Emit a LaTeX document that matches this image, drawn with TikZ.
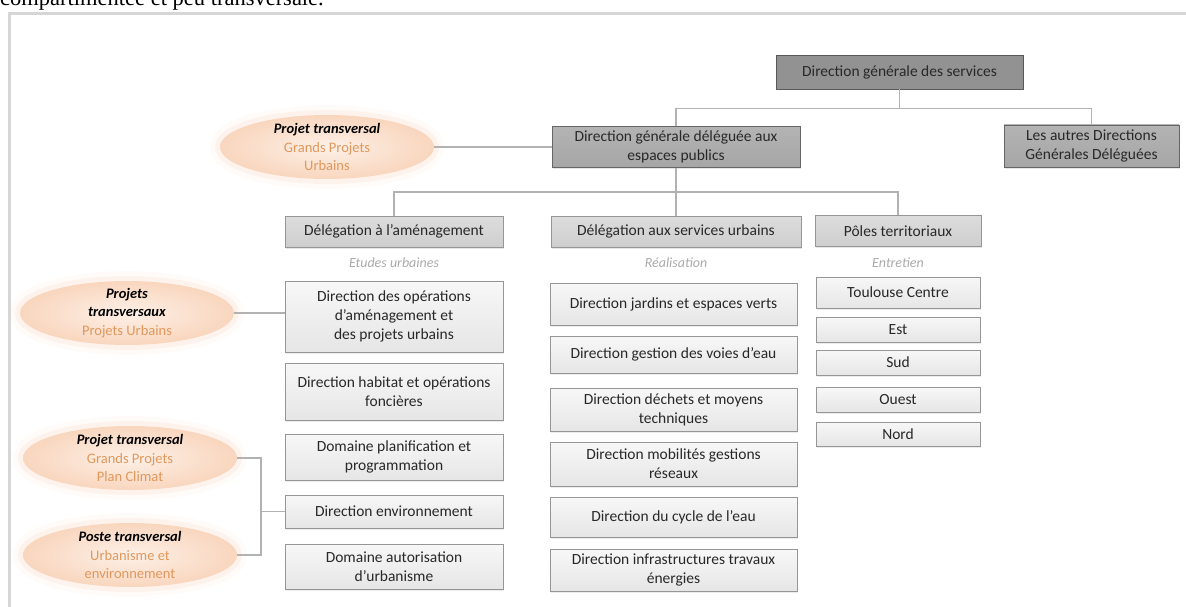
\documentclass[tikz,border=0pt]{standalone}
\usepackage{fontspec}
\setmainfont{Carlito}
\newfontfamily\pagefont{Liberation Serif}
\usetikzlibrary{shapes.geometric,shadows}
\definecolor{framegray}{RGB}{214,214,214}
\definecolor{topgray}{RGB}{146,146,146}
\definecolor{midgray}{RGB}{166,166,166}
\definecolor{delgray}{RGB}{206,206,206}
\definecolor{dirfill}{RGB}{242,242,242}
\definecolor{boxline}{RGB}{150,150,150}
\definecolor{linkgray}{RGB}{178,178,178}
\definecolor{notegray}{RGB}{170,170,170}
\definecolor{peach}{RGB}{249,214,190}
\definecolor{peachlight}{RGB}{253,240,231}
\definecolor{orangetext}{RGB}{224,152,92}
\definecolor{inkgray}{RGB}{40,40,40}
\newcommand{\orng}[1]{{\color{orangetext}#1}}
\newcommand{\bi}[1]{\textbf{\textit{#1}}}
\tikzset{
  base/.style={draw=boxline, line width=0.8pt, align=center, text=inkgray,
    inner sep=2pt, font=\fontsize{15.5}{19}\selectfont},
  topbox/.style={base, fill=topgray, draw=gray!70!black,
    drop shadow={opacity=0.25, shadow xshift=1pt, shadow yshift=-1.5pt}},
  dgbox/.style={base, top color=midgray!85!white, bottom color=midgray, draw=gray!80!black,
    drop shadow={opacity=0.2, shadow xshift=1pt, shadow yshift=-1.5pt}},
  delbox/.style={base, top color=delgray!70!white, bottom color=delgray, minimum height=31pt,
    drop shadow={opacity=0.2, shadow xshift=1pt, shadow yshift=-1.5pt}},
  dirbox/.style={base, top color=white!97!black, bottom color=dirfill!95!black,
    drop shadow={opacity=0.15, shadow xshift=1pt, shadow yshift=-1.5pt}},
  leftdir/.style={dirbox, minimum width=218pt},
  middir/.style={dirbox, minimum width=247pt},
  poledir/.style={dirbox, minimum width=164pt},
  note/.style={text=notegray, font=\fontsize{14}{17}\selectfont\itshape},
  link/.style={linkgray, line width=1.1pt},
  projet/.style={ellipse, minimum width=214pt, minimum height=64pt,
    inner xsep=0pt, inner ysep=-4pt, align=center, text=black,
    font=\fontsize{14.5}{18.5}\selectfont,
    preaction={draw=peach, line width=20pt, draw opacity=0.1},
    preaction={draw=peach, line width=10pt, draw opacity=0.22},
    shading=radial, inner color=peachlight, outer color=peach}
}

\begin{document}
\begin{tikzpicture}[x=1pt,y=-1pt]
  \useasboundingbox (0,0) rectangle (1186,607);
  \node[anchor=base west, inner sep=0pt, font=\pagefont\fontsize{22.5}{27}\selectfont] (phrase) at (0,6) {compartimentée et peu transversale.};
  \draw[framegray, line width=3pt] (1186,13.5) -- (9.5,13.5) -- (9.5,607);

  % direction generale
  \node[topbox, minimum width=247pt, minimum height=34pt] (dgs) at (899.5,72) {Direction générale des services};
  \node[dgbox, minimum width=248pt, minimum height=41pt] (dgdep) at (676,147) {Direction générale déléguée aux\\espaces publics};
  \node[dgbox, minimum width=175pt, minimum height=42pt] (autres) at (1091.5,146) {Les autres Directions\\Générales Déléguées};
  \draw[link] (dgs.south) -- ++(0,19) coordinate (top);
  \draw[link] (dgdep.north) |- (top) -| (autres.north);

  % delegations
  \node[delbox, minimum width=218pt] (amen) at (394,231.5) {Délégation à l’aménagement};
  \node[delbox, minimum width=250pt] (servurb) at (676,231.5) {Délégation aux services urbains};
  \node[delbox, minimum width=166pt] (poles) at (898,231) {Pôles territoriaux};
  \coordinate (mid) at (676,192);
  \draw[link] (dgdep.south) -- (servurb.north);
  \draw[link] (amen.north) |- (mid) -| (poles.north);

  \node[note] (etudes) at (394,263) {Etudes urbaines};
  \node[note] (realis) at (676,263) {Réalisation};
  \node[note] (entret) at (898,263) {Entretien};

  % amenagement
  \node[leftdir, minimum height=71pt] (dop) at (394,316.5) {Direction des opérations\\d’aménagement et\\des projets urbains};
  \node[leftdir, minimum height=57pt] (dhab) at (394,391.5) {Direction habitat et opérations\\foncières};
  \node[leftdir, minimum height=46pt] (dplan) at (394,457) {Domaine planification et\\programmation};
  \node[leftdir, minimum height=33pt] (denv) at (394,511.5) {Direction environnement};
  \node[leftdir, minimum height=45pt] (daut) at (394,566.5) {Domaine autorisation\\d’urbanisme};

  % services urbains
  \node[middir, minimum height=42pt] (djard) at (673.5,304) {Direction jardins et espaces verts};
  \node[middir, minimum height=37pt] (dvoies) at (673.5,354.5) {Direction gestion des voies d’eau};
  \node[middir, minimum height=43pt] (ddech) at (673.5,409.5) {Direction déchets et moyens\\techniques};
  \node[middir, minimum height=44pt] (dmob) at (673.5,464) {Direction mobilités gestions\\réseaux};
  \node[middir, minimum height=40pt] (dcycle) at (673.5,517) {Direction du cycle de l’eau};
  \node[middir, minimum height=42pt] (dinfra) at (673.5,570) {Direction infrastructures travaux\\énergies};

  % poles territoriaux
  \node[poledir, minimum height=31pt] (tlse) at (898,292.5) {Toulouse Centre};
  \node[poledir, minimum height=25pt] (est) at (898,329.5) {Est};
  \node[poledir, minimum height=25pt] (sud) at (898,362.5) {Sud};
  \node[poledir, minimum height=25pt] (ouest) at (898,399.5) {Ouest};
  \node[poledir, minimum height=24pt] (nord) at (898,434) {Nord};

  % projets transversaux
  \node[projet] (gpu) at (327,147) {\bi{Projet transversal}\\\orng{Grands Projets}\\\orng{Urbains}};
  \node[projet] (pu) at (127,313) {\bi{Projets}\\\bi{transversaux}\\\orng{Projets Urbains}};
  \node[projet] (climat) at (130,458) {\bi{Projet transversal}\\\orng{Grands Projets}\\\orng{Plan Climat}};
  \node[projet] (urba) at (130,555) {\bi{Poste transversal}\\\orng{Urbanisme et}\\\orng{environnement}};
  \draw[link] (gpu.east) -- (dgdep.west);
  \draw[link] (pu.east) -- (pu.east -| dop.west);
  \coordinate (brk) at (261,511.5);
  \draw[link] (climat.east) -| (brk) |- (urba.east);
  \draw[link] (brk) -- (denv.west);
\end{tikzpicture}
\end{document}
